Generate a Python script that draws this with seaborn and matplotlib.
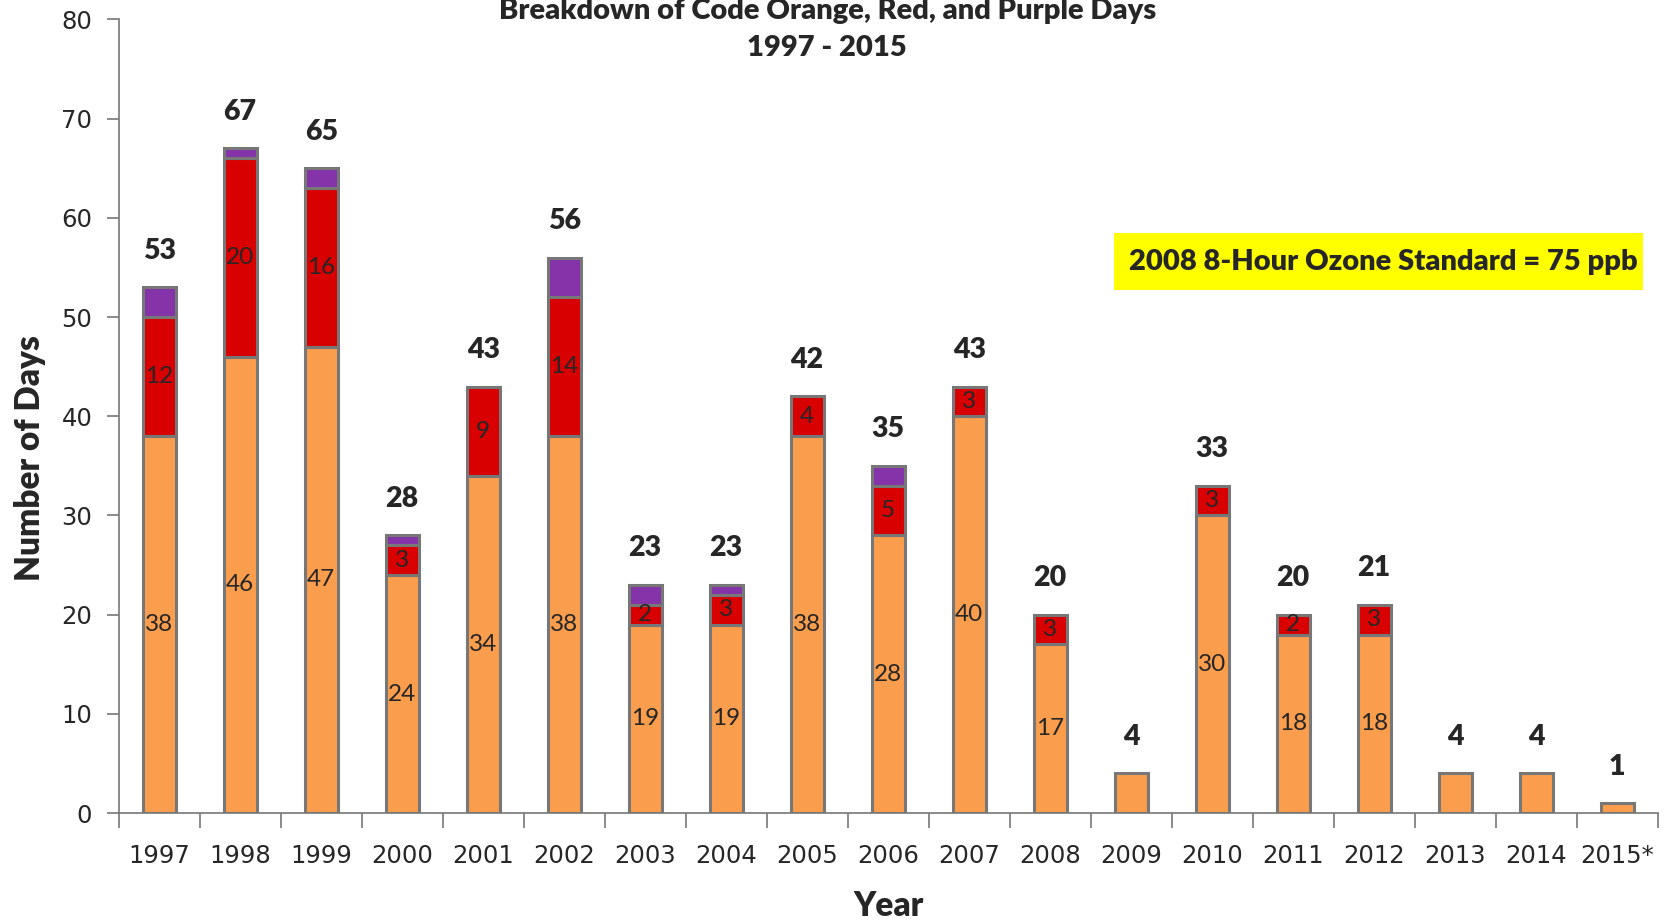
import matplotlib
matplotlib.use("Agg")
import matplotlib.pyplot as plt
from matplotlib.patches import Rectangle
import numpy as np
import pandas as pd
import seaborn as sns

years = ["1997", "1998", "1999", "2000", "2001", "2002", "2003", "2004", "2005",
         "2006", "2007", "2008", "2009", "2010", "2011", "2012", "2013", "2014", "2015*"]
orange = [38, 46, 47, 24, 34, 38, 19, 19, 38, 28, 40, 17, 4, 30, 18, 18, 4, 4, 1]
red = [12, 20, 16, 3, 9, 14, 2, 3, 4, 5, 3, 3, 0, 3, 2, 3, 0, 0, 0]
purple = [3, 1, 2, 1, 0, 4, 2, 1, 0, 2, 0, 0, 0, 0, 0, 0, 0, 0, 0]
totals = [53, 67, 65, 28, 43, 56, 23, 23, 42, 35, 43, 20, 4, 33, 20, 21, 4, 4, 1]
# years where the orange count is not printed inside the bar
no_orange_label = ["2009", "2013", "2014", "2015*"]

df = pd.DataFrame({"year": years, "orange": orange, "red": red, "purple": purple})
df["red_bottom"] = df["orange"]
df["purple_bottom"] = df["orange"] + df["red"]

sns.set_style("white")
plt.rcParams["font.family"] = ["DejaVu Sans"]

fig, ax = plt.subplots(figsize=(16.71, 9.23), dpi=100)
fig.subplots_adjust(left=0.071, right=0.992, top=0.979, bottom=0.119)

edge = "#777777"
layers = [
    ("orange", None, "#FA9E4E"),
    ("red", "red_bottom", "#D80000"),
    ("purple", "purple_bottom", "#8433A8"),
]
for col, bottom, color in layers:
    kws = {}
    if bottom is not None:
        kws["bottom"] = df[bottom].values
    sns.barplot(data=df, x="year", y=col, order=years, color=color,
                width=0.41, errorbar=None, edgecolor=edge, linewidth=2.2,
                saturation=1, ax=ax, **kws)

# hide empty segments so they leave no stray edge line
for p in ax.patches:
    if p.get_height() == 0:
        p.set_visible(False)

label_font = ["Lato", "DejaVu Sans"]
for i, y in enumerate(years):
    ax.text(i, totals[i] + 3.7, str(totals[i]), ha="center", va="center",
            fontsize=20.5, fontweight="heavy", family=label_font)
    if y not in no_orange_label:
        ax.text(i, orange[i] / 2, str(orange[i]), ha="center", va="center",
                fontsize=17.5, family=label_font)
    if red[i] > 0:
        ax.text(i, orange[i] + red[i] / 2, str(red[i]), ha="center", va="center",
                fontsize=17.5, family=label_font)

ax.set_xlim(-0.5, len(years) - 0.5)
ax.set_ylim(0, 80)
ax.set_yticks(np.arange(0, 81, 10))
ax.tick_params(axis="y", which="major", direction="out", length=9, width=1.2,
               color=edge, labelsize=17.5, pad=10, left=True)
ax.tick_params(axis="x", which="major", length=0, labelsize=17.5, pad=22)
ax.set_xticks(np.arange(-0.5, len(years), 1.0), minor=True)
ax.tick_params(axis="x", which="minor", direction="out", length=11, width=1.2,
               color=edge, bottom=True)

for side in ["top", "right"]:
    ax.spines[side].set_visible(False)
for side in ["left", "bottom"]:
    ax.spines[side].set_color(edge)
    ax.spines[side].set_linewidth(1.2)

ax.set_xlabel("Year", fontsize=24, fontweight="heavy", family=label_font, labelpad=16)
ax.set_ylabel("Number of Days", fontsize=24, fontweight="heavy", family=label_font)
ax.yaxis.set_label_coords(-0.047, 0.447)

fig.text(0.495, 0.988, "Breakdown of Code Orange, Red, and Purple Days",
         ha="center", va="center", fontsize=21, fontweight="heavy", family=label_font)
fig.text(0.495, 0.948, "1997 - 2015", ha="center", va="center", fontsize=21,
         fontweight="heavy", family=label_font)

fig.patches.append(Rectangle((0.6667, 0.6858), 0.3166, 0.0618, transform=fig.transFigure,
                             facecolor="#FFFF00", edgecolor="none", zorder=0))
fig.text(0.980, 0.716, "2008 8-Hour Ozone Standard = 75 ppb", ha="right",
         va="center", fontsize=21, fontweight="heavy", family=label_font)

fig.savefig("out.png", dpi=100, facecolor="white")
